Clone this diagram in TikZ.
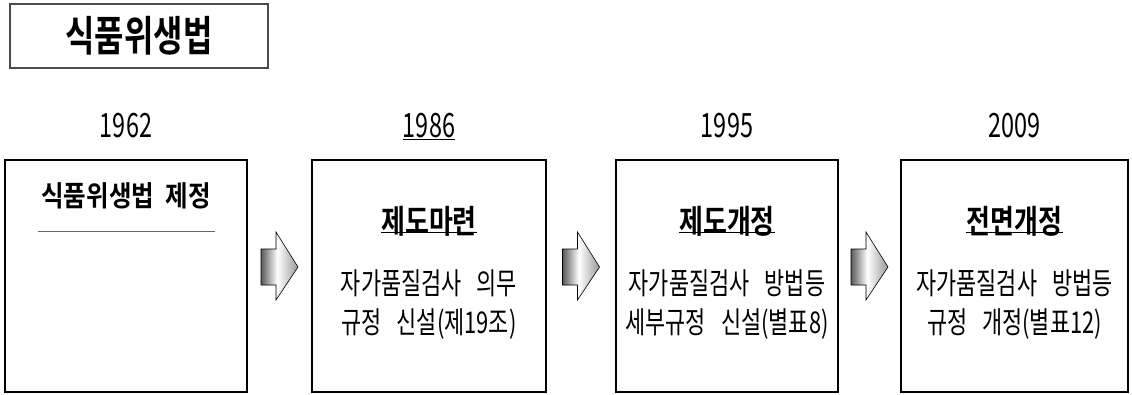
\documentclass[tikz,border=0pt]{standalone}
\usepackage{fontspec}
\usetikzlibrary{calc}
\newfontfamily\krbody[FakeStretch=0.73]{Noto Sans CJK KR}
\newfontfamily\kryear[FakeStretch=0.70]{Noto Sans CJK KR}
\newfontfamily\krhead[FakeStretch=0.80]{Noto Sans CJK KR Bold}
\newfontfamily\krheadA[FakeStretch=0.86]{Noto Sans CJK KR Bold}
\newfontfamily\krtitle[FakeStretch=0.76]{Noto Sans CJK KR Bold}
\newcommand\gap{\hspace{0.5em}}
\pgfdeclarehorizontalshading{arrowshade}{100bp}{color(0bp)=(black!65); color(25bp)=(black!65); color(47bp)=(white); color(75bp)=(black!40); color(100bp)=(black!40)}
\begin{document}
\begin{tikzpicture}[x=1pt,y=-1pt,
  box/.style={draw, line width=2pt, minimum height=232, inner sep=0},
  body/.style={font=\krbody\fontsize{30}{34}\selectfont, inner sep=0},
  year/.style={font=\kryear\fontsize{33.5}{36}\selectfont, inner sep=0},
  head/.style={font=\krhead\fontsize{32.5}{36}\selectfont, inner sep=0},
  uline/.style={line width=1pt},
  blockarrow/.pic={\path[draw=black, line width=0.6pt, shading=arrowshade]
     (-18.5,-18) -- (-3.5,-18) -- (-3.5,-35) -- (18.5,0) -- (-3.5,33) -- (-3.5,18) -- (-18.5,18) -- cycle;}
]
\useasboundingbox (0,0) rectangle (1132,394);
% title
\node[draw=black!70, line width=1.2pt, minimum width=258, minimum height=64, inner sep=0,
      font=\krtitle\fontsize{42}{44}\selectfont] (title) at (139,36) {식품위생법};
% boxes
\node[box, minimum width=242] (b1) at (126,276) {};
\node[box, minimum width=234] (b2) at (429,276) {};
\node[box, minimum width=222] (b3) at (727,276) {};
\node[box, minimum width=227] (b4) at (1014.5,276) {};
% years
\node[year] (y1) at (126,126) {1962};
\node[year] (y2) at (429,126) {1986};
\node[year] (y3) at (727,126) {1995};
\node[year] (y4) at (1014.5,126) {2009};
\draw[line width=0.8pt] (y2.west |- 0,139) -- (y2.east |- 0,139);
% arrows
\pic at ($(b1.east)!0.5!(b2.west)+(0,-9)$) {blockarrow};
\pic at ($(b2.east)!0.5!(b3.west)+(0,-9)$) {blockarrow};
\pic at ($(b3.east)!0.5!(b4.west)+(0,-9)$) {blockarrow};
% box 1
\node[head, font=\krheadA\fontsize{28.5}{32}\selectfont] (h1) at (126,196) {식품위생법\hspace{0.4em}제정};
\draw[black!60, line width=1pt] ($(b1.north west)+(34,72)$) -- ($(b1.north east)+(-33,72)$);
% box 2
\node[head] (h2) at (429,221) {제도마련};
\draw[uline] (h2.west |- 0,232) -- (h2.east |- 0,232);
\node[body] (t2a) at (429,283) {자가품질검사\gap 의무};
\node[body] (t2b) at (429,324) {규정\gap 신설(제19조)};
% box 3
\node[head] (h3) at (727,221) {제도개정};
\draw[uline] (h3.west |- 0,232) -- (h3.east |- 0,232);
\node[body] (t3a) at (727,283) {자가품질검사\gap 방법등};
\node[body] (t3b) at (727,324) {세부규정\gap 신설(별표8)};
% box 4
\node[head] (h4) at (1014.5,221) {전면개정};
\draw[uline] (h4.west |- 0,232) -- (h4.east |- 0,232);
\node[body] (t4a) at (1014.5,283) {자가품질검사\gap 방법등};
\node[body] (t4b) at (1014.5,324) {규정\gap 개정(별표12)};
\end{tikzpicture}
\end{document}
